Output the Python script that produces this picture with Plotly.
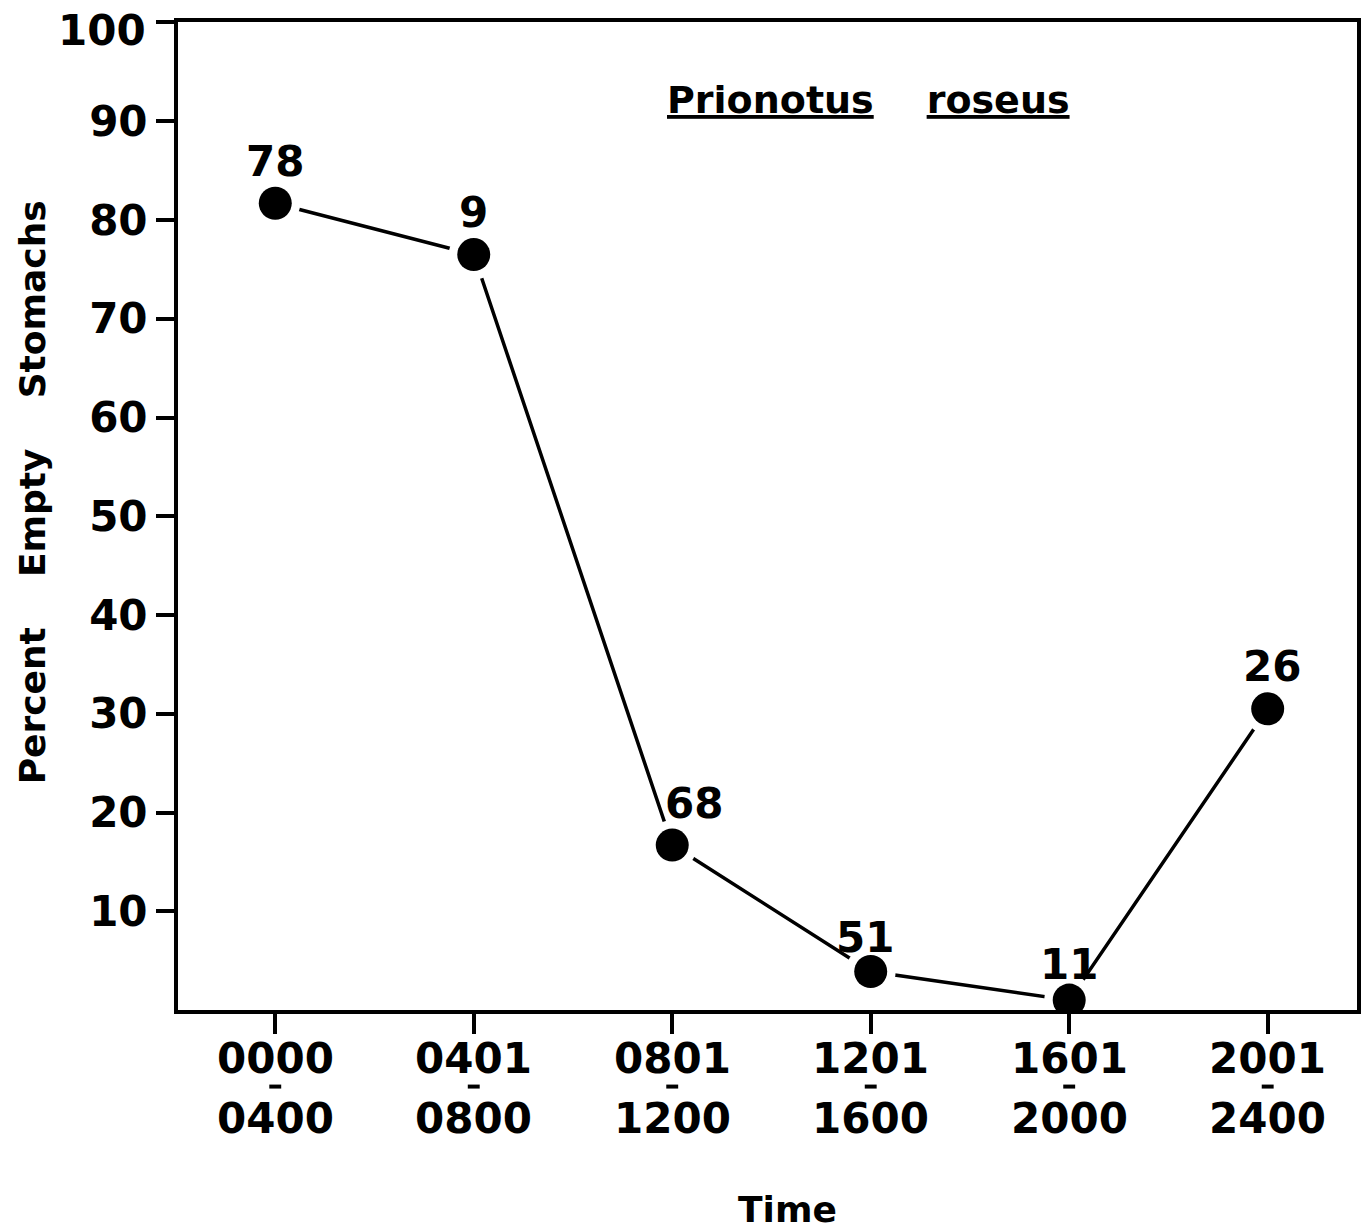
import plotly.graph_objects as go

# Four-hour feeding periods: start and end of each period
period_start = ["0000", "0401", "0801", "1201", "1601", "2001"]
period_end = ["0400", "0800", "1200", "1600", "2000", "2400"]
# Percent of stomachs found empty in each period
pct_empty = [81.7, 76.5, 16.7, 3.9, 1.0, 30.5]
# Number of stomachs examined in each period
n_fish = [78, 9, 68, 51, 11, 26]
# Label nudges (pixels) so the counts sit clear of the line
label_dx = [0, 0, 22, -6, 0, 4]
label_dy = [42, 42, 42, 34, 36, 42]

y_ticks = [10, 20, 30, 40, 50, 60, 70, 80, 90, 100]

FONT = "DejaVu Sans"
INK = "black"
TXT = dict(family=FONT, size=42, color=INK, weight="bold")

xs = list(range(len(period_start)))

fig = go.Figure()
# connecting line
fig.add_trace(go.Scatter(x=xs, y=pct_empty, mode="lines",
                         line=dict(color=INK, width=3.5), hoverinfo="skip"))
# white halo leaves a gap between line and dots
fig.add_trace(go.Scatter(x=xs, y=pct_empty, mode="markers",
                         marker=dict(color="white", size=50), hoverinfo="skip"))
fig.add_trace(go.Scatter(x=xs, y=pct_empty, mode="markers",
                         marker=dict(color=INK, size=33)))

for x, y, n, dx, dy in zip(xs, pct_empty, n_fish, label_dx, label_dy):
    fig.add_annotation(x=x, y=y, text=str(n), showarrow=False,
                       xshift=dx, yshift=dy, yanchor="middle", font=TXT)

# two-line period labels under each tick, with a short dash between
for x, a, b in zip(xs, period_start, period_end):
    fig.add_annotation(x=x, y=0, yref="paper", text=a, showarrow=False,
                       yanchor="middle", yshift=-48, font=TXT)
    fig.add_annotation(x=x, y=0, yref="paper", text=b, showarrow=False,
                       yanchor="middle", yshift=-108, font=TXT)
    fig.add_shape(type="line", xref="x", yref="paper",
                  x0=x - 0.03, x1=x + 0.03, y0=-0.0775, y1=-0.0775,
                  line=dict(color=INK, width=4))

# y tick labels; the top one sits a little below its tick
y_labels = [str(v) for v in y_ticks]
fig.add_annotation(x=0, xref="paper", y=y_ticks[-1], yref="y",
                   text=y_labels[-1], showarrow=False, xanchor="right",
                   yanchor="middle", xshift=-30, yshift=-8, font=TXT)

fig.add_annotation(x=-0.1238, y=0.524, xref="paper", yref="paper",
                   text="Percent&nbsp;&nbsp;&nbsp;&nbsp;Empty&nbsp;&nbsp;&nbsp;&nbsp;Stomachs",
                   textangle=-90, showarrow=False,
                   xanchor="center", yanchor="middle",
                   font=dict(family=FONT, size=36, color=INK, weight="bold"))

fig.add_annotation(x=0.586, y=0.921, xref="paper", yref="paper",
                   text="<u>Prionotus</u>&nbsp;&nbsp;&nbsp;&nbsp;<u>roseus</u>",
                   showarrow=False, yanchor="middle",
                   font=dict(family=FONT, size=38, color=INK, weight="bold"))

fig.add_annotation(x=0.517, y=-0.2015, xref="paper", yref="paper",
                   text="Time", showarrow=False, yanchor="middle",
                   font=dict(family=FONT, size=36, color=INK, weight="bold"))

fig.update_xaxes(range=[-0.49, 5.45], tickvals=xs, showticklabels=False,
                 showline=True, linecolor=INK, linewidth=4, mirror=True,
                 ticks="outside", ticklen=20, tickwidth=3.5, tickcolor=INK,
                 showgrid=False, zeroline=False, automargin=False)
fig.update_yaxes(range=[0, 100.05], tickvals=y_ticks,
                 ticktext=y_labels[:-1] + [""],
                 showline=True, linecolor=INK, linewidth=4, mirror=True,
                 ticks="outside", ticklen=18, tickwidth=3.5, tickcolor=INK,
                 showgrid=False, zeroline=False, tickfont=TXT, automargin=False)

fig.update_layout(width=1370, height=1232, showlegend=False,
                  plot_bgcolor="white", paper_bgcolor="white",
                  margin=dict(l=178, r=13, t=22, b=222))

fig.write_html("out.html")
